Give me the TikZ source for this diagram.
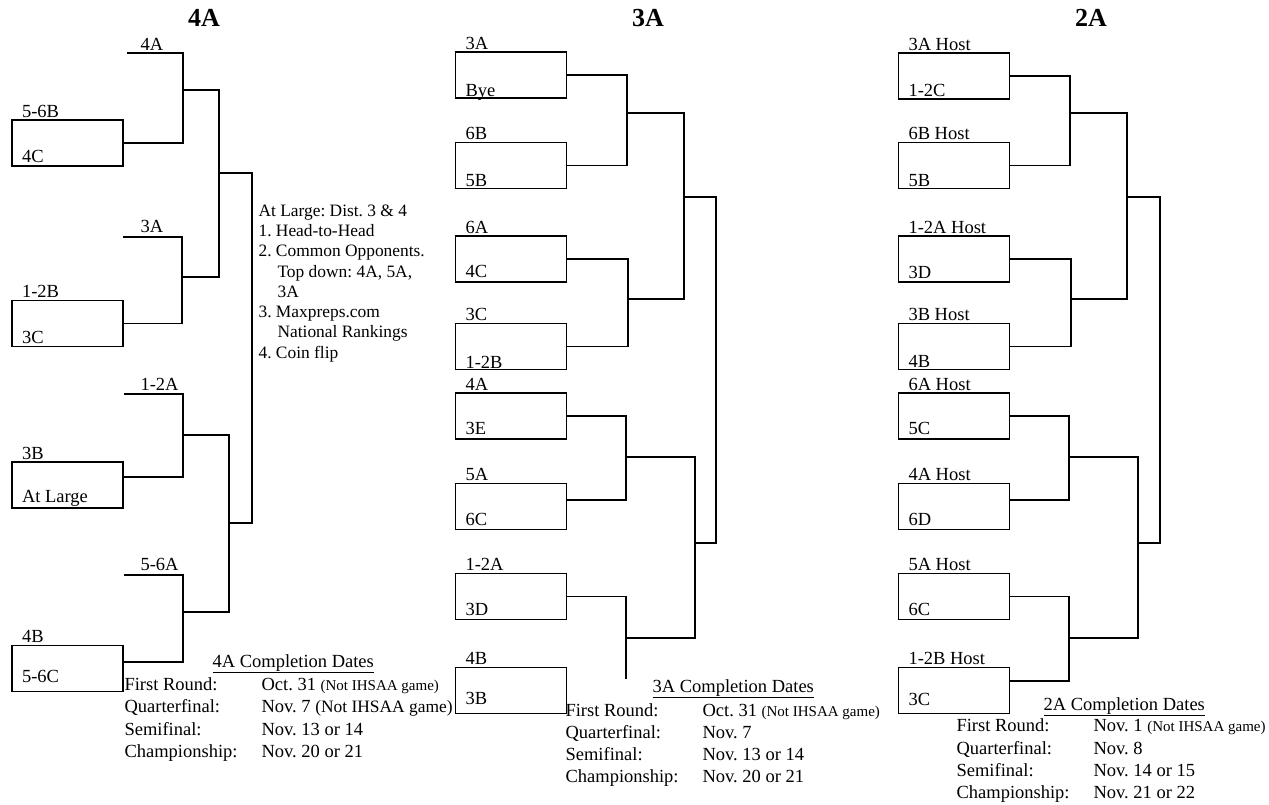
\documentclass[tikz,border=0pt]{standalone}
\usepackage{fontspec}
\setmainfont{Liberation Serif}
\usetikzlibrary{positioning}
\frenchspacing

\newcommand{\lbl}{\fontsize{18.5}{20}\selectfont}
\newcommand{\rulefont}{\fontsize{17.4}{20.3}\selectfont}
\newcommand{\notgame}[1]{{\fontsize{15}{17}\selectfont #1}}

\begin{document}
\begin{tikzpicture}[x=1pt,y=-1pt,line width=1.1pt,
      box/.style={rectangle, draw, minimum width=111pt, minimum height=46pt, inner sep=0pt},
      tl/.style={anchor=base west, inner sep=0pt, xshift=10pt, yshift=2pt, font=\lbl},
      bl/.style={anchor=base west, inner sep=0pt, xshift=10pt, yshift=#1, font=\lbl},
      bl/.default=4pt,
      txt/.style={anchor=base west, inner sep=0pt, font=\lbl},
      title/.style={anchor=base, inner sep=0pt, font=\bfseries\fontsize{26}{28}\selectfont}]
    \fill[white] (0,0) rectangle (1269,805);
    \useasboundingbox (0,0) rectangle (1269,805);

    % 4A bracket
    \node[title] (h4A) at (204,27) {4A};
    \node[box] (fa1) at (67.5,143) {};
    \node[box] (fa2) at (67.5,323.5) {};
    \node[box] (fa3) at (67.5,485) {};
    \node[box] (fa4) at (67.5,668.5) {};
    \node[tl] (fa1t) at (fa1.north west) {5-6B};
    \node[bl] (fa1b) at (fa1.south west) {4C};
    \node[tl] (fa2t) at (fa2.north west) {1-2B};
    \node[bl] (fa2b) at (fa2.south west) {3C};
    \node[tl] (fa3t) at (fa3.north west) {3B};
    \node[bl=6pt] (fa3b) at (fa3.south west) {At Large};
    \node[tl] (fa4t) at (fa4.north west) {4B};
    \node[bl=10pt] (fa4b) at (fa4.south west) {5-6C};

    \coordinate (s1) at (127,53);  \coordinate (r1) at (183,53);
    \coordinate (s2) at (123,237); \coordinate (r2) at (182,237);
    \coordinate (s3) at (124,394); \coordinate (r3) at (183,394);
    \coordinate (s4) at (124,575); \coordinate (r4) at (183,575);
    \node[txt] (s1t) at (140,51) {4A};
    \node[txt] (s2t) at (140,233) {3A};
    \node[txt] (s3t) at (140,390) {1-2A};
    \node[txt] (s4t) at (140,570) {5-6A};

    \coordinate (q1) at (219,90);  \coordinate (q2) at (219,277);
    \coordinate (q3) at (229,435); \coordinate (q4) at (229,612);
    \coordinate (f1) at (252,173); \coordinate (f2) at (252,523);

    \draw (s1) -- (r1) |- (fa1.east);
    \draw (s2) -- (r2) |- (fa2.east);
    \draw (s3) -- (r3) |- ([yshift=8pt]fa3.east);
    \draw (s4) -- (r4) |- ([yshift=6.5pt]fa4.east);
    \draw (r1 |- q1) -- (q1) -- (q2) -- (r2 |- q2);
    \draw (r3 |- q3) -- (q3) -- (q4) -- (r4 |- q4);
    \draw (q1 |- f1) -- (f1) -- (f2) -- (q3 |- f2);

    \node[anchor=north west, align=left, inner sep=0pt, font=\rulefont] (rules) at (258,204)
      {At Large: Dist. 3 \& 4\\
       1. Head-to-Head\\
       2. Common Opponents.\\
       \hspace*{19pt}Top down: 4A, 5A,\\
       \hspace*{19pt}3A\\
       3. Maxpreps.com\\
       \hspace*{19pt}National Rankings\\
       4. Coin flip};

    \node[txt] (c4h) at (212,667) {\underline{4A Completion Dates}};
    \node[txt] (c4r1) at (124,690) {\makebox[137pt][l]{First Round:}Oct. 31 \notgame{(Not IHSAA game)}};
    \node[txt] (c4r2) at (124,712) {\makebox[137pt][l]{Quarterfinal:}Nov. 7 {\fontsize{17.4}{20}\selectfont(Not IHSAA game)}};
    \node[txt] (c4r3) at (124,735) {\makebox[137pt][l]{Semifinal:}Nov. 13 or 14};
    \node[txt] (c4r4) at (124,757) {\makebox[137pt][l]{Championship:}Nov. 20 or 21};

    % 3A bracket
    \node[title] (h3A) at (648,27) {3A};
    \node[box] (th1) at (511,75) {};
    \node[box] (th2) at (511,165.5) {};
    \node[box] (th3) at (511,259) {};
    \node[box] (th4) at (511,346.5) {};
    \node[box] (th5) at (511,416) {};
    \node[box] (th6) at (511,506.5) {};
    \node[box] (th7) at (511,596.5) {};
    \node[box] (th8) at (511,690.5) {};
    \node[tl] (th1t) at (th1.north west) {3A};
    \node[bl=2pt] (th1b) at (th1.south west) {Bye};
    \node[tl] (th2t) at (th2.north west) {6B};
    \node[bl=3pt] (th2b) at (th2.south west) {5B};
    \node[tl] (th3t) at (th3.north west) {6A};
    \node[bl=5pt] (th3b) at (th3.south west) {4C};
    \node[tl] (th4t) at (th4.north west) {3C};
    \node[bl=2pt] (th4b) at (th4.south west) {1-2B};
    \node[tl] (th5t) at (th5.north west) {4A};
    \node[bl=5pt] (th5b) at (th5.south west) {3E};
    \node[tl] (th6t) at (th6.north west) {5A};
    \node[bl=5pt] (th6b) at (th6.south west) {6C};
    \node[tl] (th7t) at (th7.north west) {1-2A};
    \node[bl=5pt] (th7b) at (th7.south west) {3D};
    \node[tl] (th8t) at (th8.north west) {4B};
    \node[bl=10pt] (th8b) at (th8.south west) {3B};

    \coordinate (k1) at (627,113); \coordinate (k2) at (628,299);
    \coordinate (k3) at (626,457); \coordinate (k4) at (626,638);
    \coordinate (m1) at (684,197); \coordinate (m2) at (695,543);
    \coordinate (g3) at (716,370); \coordinate (e8) at (626,679);

    \draw (th1.east) -| (k1) |- (th2.east);
    \draw (th3.east) -| (k2) |- (th4.east);
    \draw (th5.east) -| (k3) |- ([yshift=6.5pt]th6.east);
    \draw (th7.east) -| (e8);
    \draw (k1) -| (m1) |- (k2);
    \draw (k3) -| (m2) |- (k4);
    \draw (m1) -| (g3) |- (m2);

    \node[txt] (c3h) at (652,692) {\underline{3A Completion Dates}};
    \node[txt] (c3r1) at (565,716) {\makebox[137pt][l]{First Round:}Oct. 31 \notgame{(Not IHSAA game)}};
    \node[txt] (c3r2) at (565,738) {\makebox[137pt][l]{Quarterfinal:}Nov. 7};
    \node[txt] (c3r3) at (565,760) {\makebox[137pt][l]{Semifinal:}Nov. 13 or 14};
    \node[txt] (c3r4) at (565,782) {\makebox[137pt][l]{Championship:}Nov. 20 or 21};

    % 2A bracket
    \node[title] (h2A) at (1091,27) {2A};
    \node[box] (tw1) at (954,76) {};
    \node[box] (tw2) at (954,165.5) {};
    \node[box] (tw3) at (954,259) {};
    \node[box] (tw4) at (954,346.5) {};
    \node[box] (tw5) at (954,416) {};
    \node[box] (tw6) at (954,506.5) {};
    \node[box] (tw7) at (954,596.5) {};
    \node[box] (tw8) at (954,690.5) {};
    \node[tl] (tw1t) at (tw1.north west) {3A Host};
    \node[bl=3pt] (tw1b) at (tw1.south west) {1-2C};
    \node[tl] (tw2t) at (tw2.north west) {6B Host};
    \node[bl=3pt] (tw2b) at (tw2.south west) {5B};
    \node[tl] (tw3t) at (tw3.north west) {1-2A Host};
    \node[bl] (tw3b) at (tw3.south west) {3D};
    \node[tl] (tw4t) at (tw4.north west) {3B Host};
    \node[bl=3pt] (tw4b) at (tw4.south west) {4B};
    \node[tl] (tw5t) at (tw5.north west) {6A Host};
    \node[bl=5pt] (tw5b) at (tw5.south west) {5C};
    \node[tl] (tw6t) at (tw6.north west) {4A Host};
    \node[bl=5pt] (tw6b) at (tw6.south west) {6D};
    \node[tl] (tw7t) at (tw7.north west) {5A Host};
    \node[bl=5pt] (tw7b) at (tw7.south west) {6C};
    \node[tl] (tw8t) at (tw8.north west) {1-2B Host};
    \node[bl=9pt] (tw8b) at (tw8.south west) {3C};

    \coordinate (n1) at (1070,113); \coordinate (n2) at (1071,299);
    \coordinate (n3) at (1069,457); \coordinate (n4) at (1069,638);
    \coordinate (o1) at (1127,197); \coordinate (o2) at (1138,543);
    \coordinate (g2) at (1160,370);

    \draw (tw1.east) -| (n1) |- (tw2.east);
    \draw (tw3.east) -| (n2) |- (tw4.east);
    \draw (tw5.east) -| (n3) |- ([yshift=6.5pt]tw6.east);
    \draw (tw7.east) -| (n4) |- ([yshift=9.5pt]tw8.east);
    \draw (n1) -| (o1) |- (n2);
    \draw (n3) -| (o2) |- (n4);
    \draw (o1) -| (g2) |- (o2);

    \node[txt] (c2h) at (1043,710) {\underline{2A Completion Dates}};
    \node[txt] (c2r1) at (956,731) {\makebox[137pt][l]{First Round:}Nov. 1 \notgame{(Not IHSAA game)}};
    \node[txt] (c2r2) at (956,754) {\makebox[137pt][l]{Quarterfinal:}Nov. 8};
    \node[txt] (c2r3) at (956,776) {\makebox[137pt][l]{Semifinal:}Nov. 14 or 15};
    \node[txt] (c2r4) at (956,798) {\makebox[137pt][l]{Championship:}Nov. 21 or 22};
\end{tikzpicture}
\end{document}
